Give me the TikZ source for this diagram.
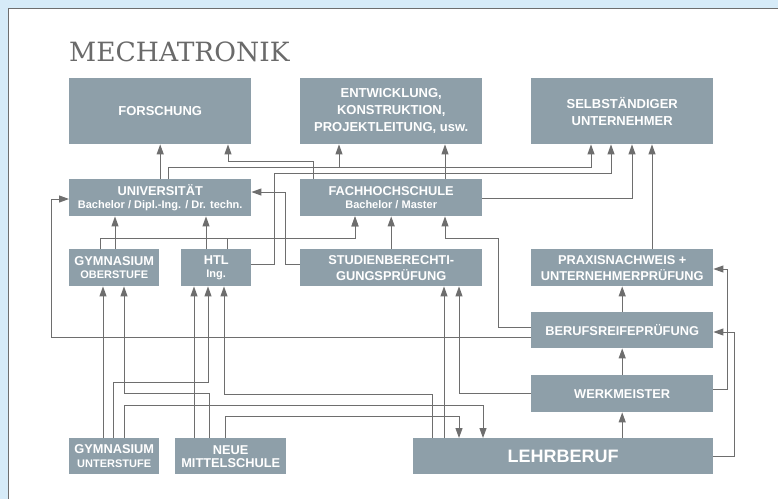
\documentclass[tikz,border=0pt]{standalone}
\usepackage{fontspec}
\setsansfont{Liberation Sans}
\newfontfamily\titlefont{DejaVu Serif}
\usetikzlibrary{arrows.meta}

\definecolor{boxgray}{HTML}{8E9FA9}
\definecolor{linegray}{HTML}{6E6E6E}
\definecolor{skyblue}{HTML}{D6EBF8}
\definecolor{titlegray}{HTML}{6A6A6A}

\newcommand{\subtxt}[1]{{\fontsize{11}{13}\selectfont #1}}

\begin{document}
\begin{tikzpicture}[x=1pt,y=-1pt,
  box/.style={fill=boxgray,text=white,inner sep=0pt,anchor=north west,align=center,
    minimum height=37pt,font=\sffamily\bfseries\fontsize{12.8}{16}\selectfont},
  topbox/.style={box,minimum width=182pt,minimum height=66pt,
    font=\sffamily\bfseries\fontsize{13}{17}\selectfont},
  conn/.style={color=linegray,line width=1pt,-{Triangle[length=10pt,width=7pt]}}]
  \useasboundingbox (0,0) rectangle (778,499);

  % Draw the panel
  \fill[skyblue] (0,0) rectangle (778,499);
  \fill[white] (8,8) rectangle (778,499);
  \draw[linegray,line width=1pt] (8,499) -- (8,8) -- (778,8);

  \node[font=\titlefont\fontsize{26.5}{30}\selectfont,text=titlegray,anchor=base west,inner sep=0pt]
    (title) at (69,61) {MECHATRONIK};

  % Draw the boxes
  \node[topbox] (forschung) at (69,78) {FORSCHUNG};
  \node[topbox] (entw) at (300,78) {ENTWICKLUNG,\\KONSTRUKTION,\\PROJEKTLEITUNG, usw.};
  \node[topbox] (selb) at (531,78) {SELBSTÄNDIGER\\UNTERNEHMER};

  \node[box,minimum width=182pt] (uni) at (69,179) {UNIVERSITÄT\\[-3pt]\subtxt{Bachelor / Dipl.-Ing. / Dr. techn.}};
  \node[box,minimum width=182pt] (fh) at (300,179) {FACHHOCHSCHULE\\[-3pt]\subtxt{Bachelor / Master}};

  \node[box,minimum width=90pt] (gymo) at (69,249) {GYMNASIUM\\[-3pt]\subtxt{OBERSTUFE}};
  \node[box,minimum width=70pt] (htl) at (181,249) {HTL\\[-3pt]\subtxt{Ing.}};
  \node[box,minimum width=182pt] (sbp) at (300,249) {STUDIENBERECHTI-\\GUNGSPRÜFUNG};
  \node[box,minimum width=182pt] (praxis) at (531,249) {PRAXISNACHWEIS +\\UNTERNEHMERPRÜFUNG};

  \node[box,minimum width=182pt,minimum height=36pt] (brp) at (531,312) {BERUFSREIFEPRÜFUNG};
  \node[box,minimum width=182pt] (werk) at (531,375) {WERKMEISTER};

  \node[box,minimum width=90pt,minimum height=36pt] (gymu) at (69,438) {GYMNASIUM\\[-2pt]\subtxt{UNTERSTUFE}};
  \node[box,minimum width=111pt,minimum height=36pt] (nms) at (175,438) {NEUE\\[-3pt]MITTELSCHULE};
  \node[box,minimum width=300pt,minimum height=36pt,font=\sffamily\bfseries\fontsize{18}{20}\selectfont]
    (lehr) at (413,438) {LEHRBERUF};

  % Draw the connectors to the top row
  \draw[conn] (uni.north) -- (forschung.south);
  \draw[conn] (uni.north -| 168,0) |- (591,167) -- (selb.south -| 591,0);
  \draw[conn] (uni.north -| 168,0) |- (339,167) -- (entw.south -| 339,0);
  \draw[conn] (fh.north -| 313,0) |- (228,161) -- (forschung.south -| 228,0);
  \draw[conn] (fh.north -| 445,0) -- (entw.south -| 445,0);
  \draw[conn] (fh.east |- 0,198) -| (selb.south -| 632,0);
  \draw[conn] (htl.east |- 0,264) -| (274,173) -| (selb.south -| 611,0);
  \draw[conn] (praxis.north -| 652,0) -- (selb.south -| 652,0);

  % Universitaet
  \draw[conn] (gymo.north -| 115,0) -- (uni.south -| 115,0);
  \draw[conn] (htl.north -| 206,0) -- (uni.south -| 206,0);
  \draw[conn] (sbp.west |- 0,264) -| (285,192) -- (uni.east |- 0,192);
  \draw[conn] (brp.west |- 0,337) -| (51,199) -- (uni.west |- 0,199);

  % Fachhochschule
  \draw[conn] (gymo.north -| 100,0) |- (355,238) -- (fh.south -| 355,0);
  \draw[conn] (htl.north -| 227,0) |- (355,238) -- (fh.south -| 355,0);
  \draw[conn] (sbp.north) -- (fh.south);
  \draw[conn] (brp.west |- 0,327) -| (498,238) -| (fh.south -| 445,0);

  % right column
  \draw[conn] (brp.north) -- (praxis.south);
  \draw[conn] (werk.north) -- (brp.south);
  \draw[conn] (lehr.north -| werk.south) -- (werk.south);
  \draw[conn] (lehr.east) -| (734,332) -- (brp.east |- 0,332);
  \draw[conn] (werk.east |- 0,389) -| (727,269) -- (praxis.east |- 0,269);

  % Studienberechtigungspruefung
  \draw[conn] (werk.west) -| (sbp.south -| 459,0);
  \draw[conn] (lehr.north -| 444,0) -- (sbp.south -| 444,0);

  % bottom row
  \draw[conn] (lehr.north -| 432,0) |- (224,394) -- (htl.south -| 224,0);
  \draw[conn] (gymu.north -| 124,0) |- (483,405) -- (lehr.north -| 483,0);
  \draw[conn] (nms.north -| 225,0) |- (459,416) -- (lehr.north -| 459,0);
  \draw[conn] (gymu.north -| 103,0) -- (gymo.south -| 103,0);
  \draw[conn] (nms.north -| 209,0) |- (124,393) -- (gymo.south -| 124,0);
  \draw[conn] (gymu.north -| 113,0) |- (208,382) -- (htl.south -| 208,0);
  \draw[conn] (nms.north -| 194,0) -- (htl.south -| 194,0);

\end{tikzpicture}
\end{document}
